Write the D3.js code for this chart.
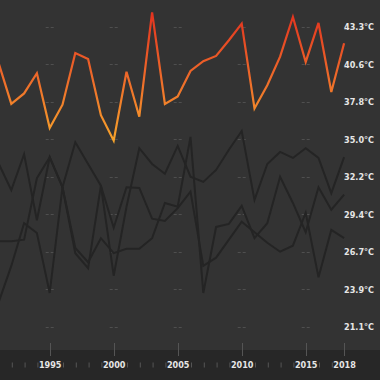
<!DOCTYPE html>
<html><head><meta charset="utf-8">
<script src="https://cdn.jsdelivr.net/npm/d3@7"></script>
<style>
html,body{margin:0;padding:0;background:#333333;}
svg{display:block;}
text{font-family:"Liberation Sans Narrow","DejaVu Sans Condensed","Roboto Condensed",sans-serif;font-weight:bold;}
</style></head>
<body><svg id="chart" width="380" height="380"></svg>
<script>
const years = d3.range(1991, 2019);
const labeledYears = [1995, 2000, 2005, 2010, 2015, 2018];
const gridYears = [1995, 2000, 2005, 2010, 2015];
const tickValuesF = [70, 75, 80, 85, 90, 95, 100, 105, 110];
const tickLabels = ["21.1°C","23.9°C","26.7°C","29.4°C","32.2°C","35.0°C","37.8°C","40.6°C","43.3°C"];

const highlight = [105.2,99.7,101.1,103.8,96.5,99.6,106.5,105.7,98.2,94.8,104.0,98.0,111.9,99.7,100.7,104.1,105.4,106.1,108.2,110.4,99.1,102.2,106.0,111.3,105.3,110.5,101.3,107.8];
const seriesA = [91.8,88.2,93.0,84.2,92.6,88.6,94.6,91.7,88.8,76.8,86.0,93.8,91.7,90.4,94.1,90.0,89.3,90.9,93.6,96.1,86.9,91.7,93.3,92.5,93.8,92.5,87.8,92.6];
const seriesB = [81.4,81.4,81.6,89.8,92.6,88.6,79.8,77.8,88.8,83.2,88.6,88.5,84.4,84.1,85.8,88.0,78.1,79.2,81.6,84.0,82.6,81.2,80.0,80.8,85.2,76.6,82.9,81.8];
const seriesC = [73.2,78.1,83.8,82.5,74.5,88.6,80.5,78.6,81.8,79.8,80.4,80.4,81.8,86.5,86.0,95.3,74.5,83.3,83.7,86.1,81.8,83.8,90.0,86.5,82.6,88.6,85.6,87.6];

const W = 380, H = 380;
const svg = d3.select("#chart");
const x = d3.scaleLinear().domain([1991, 2018]).range([-1.5, 344.1]);
const y = d3.scaleLinear().domain([70, 110]).range([326.7, 26.7]);

svg.append("rect").attr("width", W).attr("height", H).attr("fill", "#333333");
svg.append("rect").attr("x", 0).attr("y", 350).attr("width", W).attr("height", 30).attr("fill", "#272727");

// grid dashes
const grid = svg.append("g");
gridYears.forEach(yr => {
  tickValuesF.forEach(v => {
    grid.append("line")
      .attr("x1", x(yr) - 4).attr("x2", x(yr) + 4)
      .attr("y1", Math.round(y(v)) + 0.5).attr("y2", Math.round(y(v)) + 0.5)
      .attr("stroke", "#4f4f4f").attr("stroke-width", 1)
      .attr("stroke-dasharray", "3,2");
  });
});

// y labels
const yAxis = d3.axisRight(y).tickValues(tickValuesF).tickSize(0).tickPadding(0)
  .tickFormat((d, i) => tickLabels[i]);
const yg = svg.append("g").attr("transform", `translate(${x(2018)},0)`).call(yAxis);
yg.select(".domain").remove();
yg.selectAll("text").attr("fill", "#e6e6e6").attr("font-size", 9).attr("dy", "0.35em")
  .style("font-family", '"Liberation Sans Narrow","DejaVu Sans Condensed",sans-serif').style("font-weight", "bold");

// x axis
const majorTicks = svg.append("g");
labeledYears.forEach(yr => {
  majorTicks.append("line").attr("x1", Math.round(x(yr)) + 0.5).attr("x2", Math.round(x(yr)) + 0.5)
    .attr("y1", 343).attr("y2", 356).attr("stroke", "#555").attr("stroke-width", 1);
});
const xAxis = d3.axisBottom(x).tickValues(years.filter(yr => x(yr) > 0)).tickSize(0).tickPadding(0)
  .tickFormat(d => labeledYears.includes(d) ? String(d) : "");
const xg = svg.append("g").attr("transform", "translate(0,365)").call(xAxis);
xg.select(".domain").remove();
xg.selectAll("text").attr("fill", "#e6e6e6").attr("font-size", 9).attr("dy", "0.35em").attr("y", 0)
  .style("font-family", '"Liberation Sans Narrow","DejaVu Sans Condensed",sans-serif').style("font-weight", "bold");
xg.selectAll(".tick").filter(d => !labeledYears.includes(d)).append("line")
  .attr("x1", 0.5).attr("x2", 0.5).attr("y1", -2.5).attr("y2", 2.5).attr("stroke", "#555");

// gradient
const defs = svg.append("defs");
const grad = defs.append("linearGradient").attr("id", "hot").attr("gradientUnits", "userSpaceOnUse")
  .attr("x1", 0).attr("x2", 0).attr("y1", y(112)).attr("y2", y(94.5));
grad.append("stop").attr("offset", "0%").attr("stop-color", "#e3321f");
grad.append("stop").attr("offset", "50%").attr("stop-color", "#ee6a2a");
grad.append("stop").attr("offset", "100%").attr("stop-color", "#f7a52b");

const line = d3.line().x((d, i) => x(years[i])).y(d => y(d));
[seriesA, seriesB, seriesC].forEach(s => {
  svg.append("path").datum(s).attr("d", line).attr("fill", "none")
    .attr("stroke", "#242424").attr("stroke-width", 2).attr("stroke-linejoin", "miter");
});
svg.append("path").datum(highlight).attr("d", line).attr("fill", "none")
  .attr("stroke", "url(#hot)").attr("stroke-width", 2.2).attr("stroke-linejoin", "miter");
</script></body></html>
